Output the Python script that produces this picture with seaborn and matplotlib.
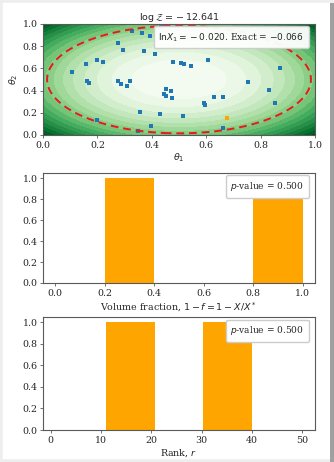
import numpy as np
import pandas as pd
import matplotlib
matplotlib.use("Agg")
import matplotlib.pyplot as plt
import seaborn as sns
from matplotlib.patches import Patch, Rectangle

# ---------------- data ----------------
live_x = [0.108, 0.157, 0.162, 0.169, 0.200, 0.221, 0.200, 0.276, 0.294, 0.275,
          0.287, 0.320, 0.310, 0.328, 0.364, 0.372, 0.393, 0.413, 0.355, 0.350,
          0.398, 0.429, 0.433, 0.479, 0.507, 0.519, 0.544, 0.454, 0.470, 0.444,
          0.451, 0.474, 0.513, 0.607, 0.591, 0.595, 0.629, 0.663, 0.661, 0.755,
          0.832, 0.854, 0.871]
live_y = [0.565, 0.637, 0.486, 0.465, 0.673, 0.661, 0.132, 0.826, 0.769, 0.486,
          0.462, 0.489, 0.444, 0.937, 0.922, 0.760, 0.892, 0.727, 0.210, 0.036,
          0.081, 0.186, 0.970, 0.661, 0.649, 0.640, 0.622, 0.411, 0.396, 0.372,
          0.351, 0.333, 0.171, 0.673, 0.285, 0.267, 0.339, 0.339, 0.060, 0.477,
          0.405, 0.291, 0.601]
new_x = [0.677]
new_y = [0.153]
contour_radius = 0.485
title_logz = r"$\log\mathcal{Z} = {}- 12.641$"
top_label = r"$\mathrm{ln}X_1 = {}- 0.020$. Exact = $-0.066$"
vol_fracs = [0.31, 0.92]
vol_bins = [0.0, 0.2, 0.4, 0.6, 0.8, 1.0]
ranks = [11, 40]
rank_bins = 3
pval_label = r"$p$-value = 0.500"

# ---------------- style ----------------
sns.set_theme(style="white")
plt.rcParams["font.family"] = ["DejaVu Serif"]
plt.rcParams["mathtext.fontset"] = "dejavusans"
plt.rcParams["axes.edgecolor"] = "0.35"
plt.rcParams["axes.linewidth"] = 0.8
fs = 6.8
lfs = 6.5

fig = plt.figure(figsize=(3.34, 4.62), dpi=100)
# frame decorations of the screenshot
fig.patches.append(Rectangle((0, 0), 1, 1, transform=fig.transFigure,
                             fill=False, edgecolor="#eeeeee", linewidth=4))
fig.patches.append(Rectangle((330 / 334, 0), 4 / 334, 1 - 3 / 462,
                             transform=fig.transFigure, facecolor="#a0a0a0",
                             edgecolor="none"))

W = 334.0
H = 462.0
def pos(l, t, r, b):
    return [l / W, 1 - b / H, (r - l) / W, (b - t) / H]

ax1 = fig.add_axes(pos(43, 24, 315, 135))
ax2 = fig.add_axes(pos(43, 173, 315, 283))
ax3 = fig.add_axes(pos(43, 317, 315, 430))

def text_legend(ax, label, alpha):
    w = ax.bbox.width
    h = ax.bbox.height
    ax.legend([Patch(alpha=0)], [label], loc="upper right",
              bbox_to_anchor=(1 - 6.5 / w, 1 - 2.5 / h), borderaxespad=0,
              handlelength=0, handletextpad=0,
              fontsize=lfs, framealpha=alpha, borderpad=0.5)

# ---- top panel ----
g = np.linspace(0, 1, 300)
X, Y = np.meshgrid(g, g)
R2 = (X - 0.5) ** 2 + (Y - 0.5) ** 2
logL = -R2 / (2 * 0.1 ** 2)
ax1.contourf(X, Y, logL, levels=22, cmap="Greens_r")
ax1.contour(X, Y, R2, levels=[contour_radius ** 2], colors="#e41a1c",
            linestyles=[(0, (4, 2.5))], linewidths=1.4)
live = pd.DataFrame({"x": live_x, "y": live_y})
new = pd.DataFrame({"x": new_x, "y": new_y})
sns.scatterplot(data=live, x="x", y="y", ax=ax1, marker="s", s=8,
                color="#1f77b4", linewidth=0)
sns.scatterplot(data=new, x="x", y="y", ax=ax1, marker="s", s=8,
                color="orange", linewidth=0)
ax1.set_xlim(0, 1)
ax1.set_ylim(0, 1)
ax1.set_xticks(np.arange(0, 1.01, 0.2))
ax1.set_yticks(np.arange(0, 1.01, 0.2))
ax1.set_xlabel(r"$\theta_1$", fontsize=fs, labelpad=1.5)
ax1.set_ylabel(r"$\theta_2$", fontsize=fs, labelpad=2)
ax1.set_title(title_logz, fontsize=fs, pad=2)
text_legend(ax1, top_label, 0.95)

# ---- volume fraction histogram ----
sns.histplot(x=vol_fracs, bins=vol_bins, ax=ax2, color="orange",
             alpha=1, linewidth=0)
ax2.set_xlim(-0.05, 1.05)
ax2.set_ylim(0, 1.05)
ax2.set_xticks(np.arange(0, 1.01, 0.2))
ax2.set_yticks(np.arange(0, 1.01, 0.2))
ax2.set_ylabel("")
ax2.set_xlabel(r"Volume fraction, $1 - f = 1 - X/X^*$", fontsize=fs, labelpad=2)
text_legend(ax2, pval_label, 1)

# ---- rank histogram ----
sns.histplot(x=ranks, bins=rank_bins, ax=ax3, color="orange",
             alpha=1, linewidth=0)
ax3.set_xlim(-1.5, 52.5)
ax3.set_ylim(0, 1.05)
ax3.set_xticks(np.arange(0, 51, 10))
ax3.set_yticks(np.arange(0, 1.01, 0.2))
ax3.set_ylabel("")
ax3.set_xlabel(r"Rank, $r$", fontsize=fs, labelpad=2)
text_legend(ax3, pval_label, 1)

for ax in (ax1, ax2, ax3):
    ax.tick_params(axis="both", which="both", labelsize=fs, length=2.5,
                   width=0.6, color="0.35", pad=1.5, bottom=True, left=True)
    ax.yaxis.set_major_formatter(matplotlib.ticker.FormatStrFormatter("%.1f"))
ax1.xaxis.set_major_formatter(matplotlib.ticker.FormatStrFormatter("%.1f"))
ax2.xaxis.set_major_formatter(matplotlib.ticker.FormatStrFormatter("%.1f"))

fig.savefig("out.png", dpi=100)
